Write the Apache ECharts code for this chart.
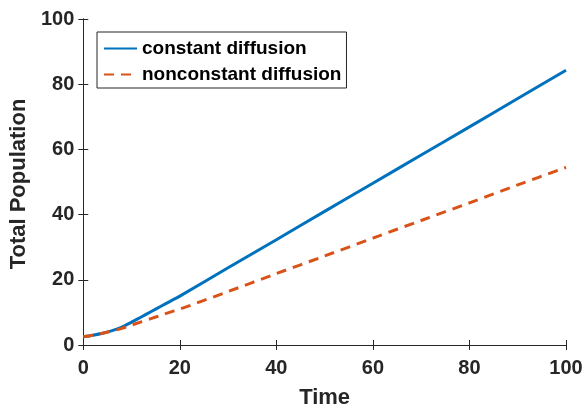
<!DOCTYPE html>
<html><head><meta charset="utf-8">
<script src="https://cdn.jsdelivr.net/npm/echarts@6/dist/echarts.min.js"></script>
<style>html,body{margin:0;padding:0;background:#fff}#c{width:588px;height:414px}</style>
</head><body><div id="c"></div>
<script>
const time = [0, 2, 4, 6, 8, 10, 12, 14, 16, 18, 20, 30, 40, 50, 60, 70, 80, 90, 100];
const constantDiffusion = [2.5, 3.0, 3.6, 4.4, 5.5, 7.0, 8.6, 10.2, 11.8, 13.4, 15.0, 23.7, 32.3, 41.0, 49.6, 58.3, 66.9, 75.6, 84.3];
const nonconstantDiffusion = [2.5, 3.0, 3.6, 4.3, 5.1, 6.1, 7.1, 8.1, 9.1, 10.1, 11.0, 16.4, 21.9, 27.3, 32.8, 38.2, 43.6, 49.1, 54.5];
const seriesNames = ['constant diffusion', 'nonconstant diffusion'];
const xTicks = [0, 20, 40, 60, 80, 100];
const yTicks = [0, 20, 40, 60, 80, 100];

const font = 'Liberation Sans, Arial, sans-serif';
const dark = '#262626';
const chart = echarts.init(document.getElementById('c'));
const axisLine = {show: true, lineStyle: {color: dark, width: 1}};
const ticks = {show: true, inside: true, length: 5, lineStyle: {color: dark}};
chart.setOption({
  animation: false,
  grid: {left: 83, right: 22, top: 19, bottom: 66, containLabel: false},
  legend: {
    orient: 'vertical', left: 97, top: 32, itemWidth: 33, itemHeight: 14, itemGap: 7,
    padding: [7, 5, 4, 6], borderColor: dark, borderWidth: 1, backgroundColor: '#fff',
    itemStyle: {opacity: 0},
    textStyle: {fontFamily: font, fontWeight: 'bold', fontSize: 19, lineHeight: 19, color: '#000'},
    data: seriesNames
  },
  xAxis: [{
    type: 'value', min: xTicks[0], max: xTicks[xTicks.length-1], interval: 20,
    name: 'Time', nameLocation: 'middle', nameGap: 42,
    nameTextStyle: {fontFamily: font, fontWeight: 'bold', fontSize: 22, color: dark},
    axisLine, axisTick: ticks, splitLine: {show: false},
    axisLabel: {fontFamily: font, fontWeight: 'bold', fontSize: 20, color: dark, margin: 13}
  }, {
    type: 'value', position: 'top', min: 0, max: 100, interval: 20,
    axisLine, axisTick: ticks, axisLabel: {show: false}, splitLine: {show: false}
  }],
  yAxis: [{
    type: 'value', min: yTicks[0], max: yTicks[yTicks.length-1], interval: 20,
    name: 'Total Population', nameLocation: 'middle', nameGap: 47,
    nameTextStyle: {fontFamily: font, fontWeight: 'bold', fontSize: 22, color: dark, padding: [0, 4, 0, 0]},
    axisLine, axisTick: ticks, splitLine: {show: false},
    axisLabel: {fontFamily: font, fontWeight: 'bold', fontSize: 20, color: dark, margin: 9}
  }, {
    type: 'value', position: 'right', min: 0, max: 100, interval: 20,
    axisLine, axisTick: ticks, axisLabel: {show: false}, splitLine: {show: false}
  }],
  series: [{
    name: seriesNames[0], type: 'line', symbol: 'none', smooth: 0.3,
    data: time.map((t, i) => [t, constantDiffusion[i]]),
    lineStyle: {color: '#0072BD', width: 3}, itemStyle: {color: '#0072BD'}
  }, {
    name: seriesNames[1], type: 'line', symbol: 'none', smooth: 0.3,
    data: time.map((t, i) => [t, nonconstantDiffusion[i]]),
    lineStyle: {color: '#D95319', width: 3, type: [10, 7]}, itemStyle: {color: '#D95319'}
  }]
});
</script></body></html>
